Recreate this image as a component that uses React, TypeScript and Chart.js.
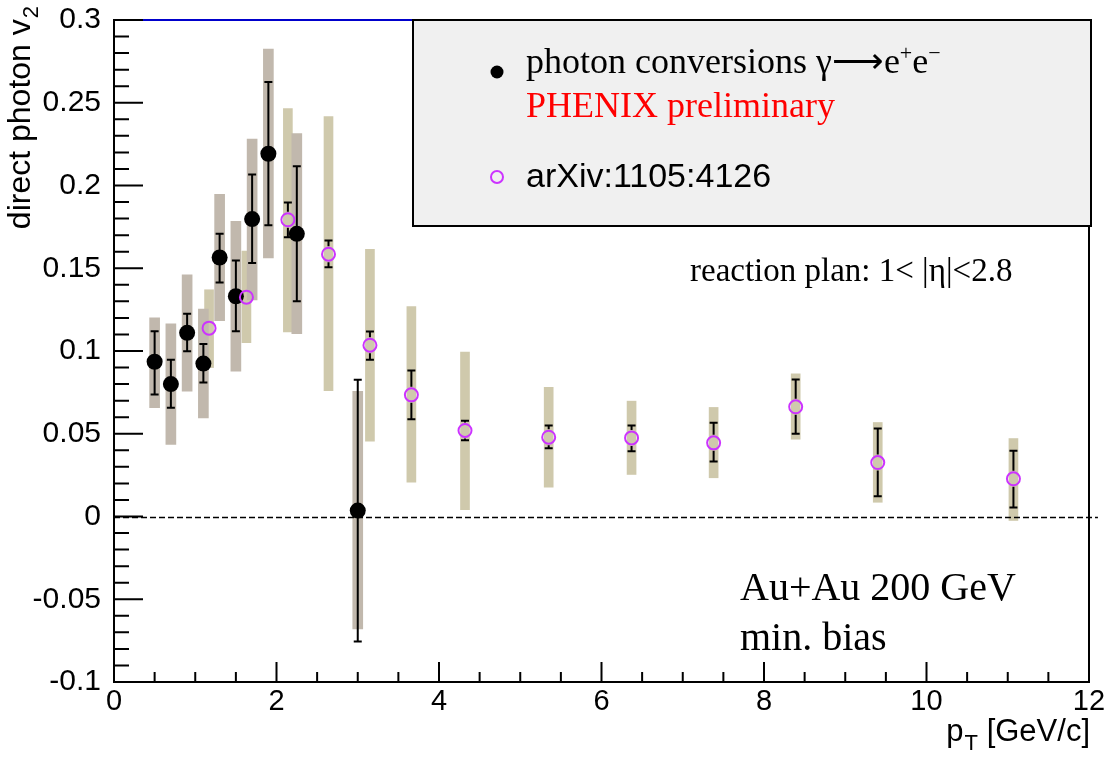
import React, { useEffect, useRef } from "react";
import { Chart, registerables } from "chart.js";

Chart.register(...registerables);

// ---- PHENIX preliminary: photon conversions (black dots) ----
const convPt = [0.5, 0.7, 0.9, 1.1, 1.3, 1.5, 1.7, 1.9, 2.25, 3.0];
const convV2 = [0.0935, 0.08, 0.111, 0.0924, 0.1565, 0.1331, 0.1797, 0.2192, 0.1708, 0.0036];
const convStatLow = [0.0737, 0.0657, 0.0999, 0.081, 0.1414, 0.112, 0.1531, 0.176, 0.13, -0.0755];
const convStatHigh = [0.112, 0.0947, 0.1225, 0.1043, 0.1708, 0.1547, 0.2066, 0.2626, 0.2117, 0.0826];
const convSysLow = [0.0657, 0.0435, 0.0757, 0.0596, 0.1184, 0.0878, 0.1309, 0.1563, 0.1104, -0.0679];
const convSysHigh = [0.12, 0.1164, 0.146, 0.1253, 0.1946, 0.1784, 0.228, 0.2824, 0.2314, 0.0757];

// ---- arXiv:1105:4126 (open magenta circles) ----
const arxivPt = [1.17, 1.63, 2.14, 2.64, 3.15, 3.66, 4.32, 5.35, 6.37, 7.38, 8.39, 9.4, 11.07];
const arxivV2 = [0.1138, 0.1325, 0.1793, 0.1585, 0.1035, 0.0735, 0.052, 0.0479, 0.0475, 0.0445, 0.0663, 0.0326, 0.0228];
const arxivStatLow = [0.1108, 0.1295, 0.1688, 0.1506, 0.0947, 0.0588, 0.0461, 0.0413, 0.0395, 0.0332, 0.05, 0.0123, 0.0054];
const arxivStatHigh = [0.1168, 0.1355, 0.1897, 0.1668, 0.1118, 0.0882, 0.0578, 0.055, 0.055, 0.0566, 0.0828, 0.0532, 0.0397];
const arxivSysLow = [0.09, 0.1051, 0.1116, 0.0761, 0.0455, 0.0207, 0.0042, 0.0177, 0.0254, 0.0234, 0.0467, 0.0086, -0.0024];
const arxivSysHigh = [0.137, 0.1603, 0.2465, 0.2417, 0.1615, 0.1269, 0.0993, 0.0781, 0.0697, 0.0659, 0.0862, 0.0568, 0.0471];

// ---- axes ----
const xTickValues = [0, 2, 4, 6, 8, 10, 12];
const xTickLabels = ["0", "2", "4", "6", "8", "10", "12"];
const yTickValues = [-0.1, -0.05, 0, 0.05, 0.1, 0.15, 0.2, 0.25, 0.3];
const yTickLabels = ["-0.1", "-0.05", "0", "0.05", "0.1", "0.15", "0.2", "0.25", "0.3"];
const xMinorStep = 0.5;
const yMinorStep = 0.01;

const SANS = "'Liberation Sans', Arial, Helvetica, sans-serif";
const SERIF = "'Liberation Serif', 'Times New Roman', serif";
const SYS_CONV = "rgb(193,184,173)";
const SYS_ARXIV = "rgb(207,201,172)";
const MAGENTA = "#cc33ff";

const W = 1104;
const H = 757;

function drawStat(ctx: CanvasRenderingContext2D, x: number, y: number, yHi: number, yLo: number, gap: number) {
  const cap = 4;
  ctx.beginPath();
  if (y - yHi > gap) {
    ctx.moveTo(x, y - gap);
    ctx.lineTo(x, yHi);
    ctx.moveTo(x - cap, yHi);
    ctx.lineTo(x + cap, yHi);
  }
  if (yLo - y > gap) {
    ctx.moveTo(x, y + gap);
    ctx.lineTo(x, yLo);
    ctx.moveTo(x - cap, yLo);
    ctx.lineTo(x + cap, yLo);
  }
  ctx.stroke();
}

const statPlugin = {
  id: "statBars",
  afterDatasetDraw(chart: any, args: any) {
    if (args.index !== 0) return;
    const ctx: CanvasRenderingContext2D = chart.ctx;
    const xs = chart.scales.x;
    const ys = chart.scales.y;
    ctx.save();
    ctx.strokeStyle = "#000";
    ctx.lineWidth = 2;
    convPt.forEach((p, i) => {
      drawStat(ctx, xs.getPixelForValue(p), ys.getPixelForValue(convV2[i]), ys.getPixelForValue(convStatHigh[i]), ys.getPixelForValue(convStatLow[i]), 0);
    });
    arxivPt.forEach((p, i) => {
      drawStat(ctx, xs.getPixelForValue(p), ys.getPixelForValue(arxivV2[i]), ys.getPixelForValue(arxivStatHigh[i]), ys.getPixelForValue(arxivStatLow[i]), 8);
    });
    ctx.restore();
  },
};

const decorPlugin = {
  id: "decor",
  afterDatasetsDraw(chart: any) {
    const ctx: CanvasRenderingContext2D = chart.ctx;
    const xs = chart.scales.x;
    const ys = chart.scales.y;
    const ca = chart.chartArea;
    ctx.save();

    // zero line (dashed)
    ctx.strokeStyle = "#000";
    ctx.lineWidth = 1.6;
    ctx.setLineDash([6, 3]);
    ctx.beginPath();
    const y0 = Math.round(ys.getPixelForValue(0)) + 0.5;
    ctx.moveTo(xs.getPixelForValue(0), y0);
    ctx.lineTo(xs.getPixelForValue(12.11), y0);
    ctx.stroke();
    ctx.setLineDash([]);

    // frame
    ctx.lineWidth = 2;
    ctx.strokeStyle = "#000";
    ctx.strokeRect(ca.left, ca.top, ca.right - ca.left, ca.bottom - ca.top);

    // ticks (inside)
    ctx.beginPath();
    for (let k = 0; k <= Math.round(12 / xMinorStep); k++) {
      const v = k * xMinorStep;
      const px = xs.getPixelForValue(v);
      const len = xTickValues.includes(v) ? 20 : 10;
      ctx.moveTo(px, ca.bottom);
      ctx.lineTo(px, ca.bottom - len);
    }
    for (let k = 0; k <= Math.round(0.4 / yMinorStep); k++) {
      const v = -0.1 + k * yMinorStep;
      const py = ys.getPixelForValue(v);
      const major = k % 5 === 0;
      ctx.moveTo(ca.left, py);
      ctx.lineTo(ca.left + (major ? 29 : 15), py);
    }
    ctx.stroke();

    // legend box
    const bl = 413, bt = ca.top, br = 1091, bb = 226;
    // blue line along the top
    ctx.strokeStyle = "#0000cc";
    ctx.lineWidth = 2;
    ctx.beginPath();
    ctx.moveTo(ca.left + 29, ca.top);
    ctx.lineTo(bl, ca.top);
    ctx.stroke();

    ctx.fillStyle = "#f0f0f0";
    ctx.fillRect(bl, bt, br - bl, bb - bt);
    ctx.strokeStyle = "#000";
    ctx.lineWidth = 2;
    ctx.strokeRect(bl, bt, br - bl, bb - bt);

    // legend markers
    ctx.fillStyle = "#000";
    ctx.beginPath();
    ctx.arc(497, 72, 6.5, 0, Math.PI * 2);
    ctx.fill();
    ctx.strokeStyle = MAGENTA;
    ctx.lineWidth = 2;
    ctx.beginPath();
    ctx.arc(497, 177, 6, 0, Math.PI * 2);
    ctx.stroke();

    // legend texts
    ctx.textBaseline = "alphabetic";
    ctx.textAlign = "left";
    ctx.fillStyle = "#000";
    let x = 526;
    ctx.font = `36px ${SERIF}`;
    const t1 = "photon conversions γ⟶e";
    ctx.fillText(t1, x, 73);
    x += ctx.measureText(t1).width;
    ctx.font = `22px ${SERIF}`;
    ctx.fillText("+", x, 60);
    x += ctx.measureText("+").width;
    ctx.font = `36px ${SERIF}`;
    ctx.fillText("e", x, 73);
    x += ctx.measureText("e").width;
    ctx.font = `22px ${SERIF}`;
    ctx.fillText("−", x, 60);

    ctx.font = `36px ${SERIF}`;
    ctx.fillStyle = "#ff0000";
    ctx.fillText("PHENIX preliminary", 526, 117);

    ctx.fillStyle = "#000";
    ctx.font = `34px ${SANS}`;
    ctx.fillText("arXiv:1105:4126", 526, 187);

    ctx.font = `33px ${SERIF}`;
    ctx.fillText("reaction plan: 1< |η|<2.8", 690, 281);

    ctx.font = `40px ${SERIF}`;
    ctx.fillText("Au+Au 200 GeV", 740, 600);
    ctx.fillText("min. bias", 740, 650);

    // x-axis title: p_T [GeV/c]
    ctx.font = `31px ${SANS}`;
    ctx.textAlign = "right";
    let rx = ca.right + 1;
    const xt = " [GeV/c]";
    ctx.fillText(xt, rx, 741);
    rx -= ctx.measureText(xt).width;
    ctx.font = `22px ${SANS}`;
    ctx.fillText("T", rx, 750);
    rx -= ctx.measureText("T").width + 1;
    ctx.font = `31px ${SANS}`;
    ctx.fillText("p", rx, 741);

    // y-axis title: direct photon v_2
    ctx.save();
    ctx.translate(30, 6);
    ctx.rotate(-Math.PI / 2);
    ctx.textAlign = "right";
    ctx.font = `22px ${SANS}`;
    ctx.fillText("2", 0, 8);
    const w2 = ctx.measureText("2").width;
    ctx.font = `32px ${SANS}`;
    ctx.fillText("direct photon v", -w2 - 1, 0);
    ctx.restore();

    ctx.restore();
  },
};

export default function App() {
  const ref = useRef<HTMLCanvasElement | null>(null);

  useEffect(() => {
    document.body.style.margin = "0";
    const canvas = ref.current;
    if (!canvas) return;
    const chart = new Chart(canvas, {
      type: "scatter",
      data: {
        datasets: [
          {
            type: "bar",
            label: "conversions sys",
            data: convPt.map((p, i) => ({ x: p, y: [convSysLow[i], convSysHigh[i]] })),
            backgroundColor: SYS_CONV,
            borderWidth: 0,
            barThickness: 10,
            grouped: false,
            order: 3,
          } as any,
          {
            type: "bar",
            label: "arXiv sys",
            data: arxivPt.map((p, i) => ({ x: p, y: [arxivSysLow[i], arxivSysHigh[i]] })),
            backgroundColor: SYS_ARXIV,
            borderWidth: 0,
            barThickness: 9,
            grouped: false,
            order: 4,
          } as any,
          {
            type: "scatter",
            label: "photon conversions",
            data: convPt.map((p, i) => ({ x: p, y: convV2[i] })),
            pointRadius: 8,
            pointBorderWidth: 0,
            pointBackgroundColor: "#000",
            pointBorderColor: "#000",
            order: 2,
          },
          {
            type: "scatter",
            label: "arXiv:1105:4126",
            data: arxivPt.map((p, i) => ({ x: p, y: arxivV2[i] })),
            pointRadius: 6.5,
            pointBorderWidth: 2,
            pointBackgroundColor: "rgba(0,0,0,0)",
            pointBorderColor: MAGENTA,
            order: 1,
          },
        ],
      },
      options: {
        animation: false,
        responsive: false,
        devicePixelRatio: 1,
        events: [],
        layout: { autoPadding: false, padding: { left: 0, right: W - 1089, top: 20, bottom: 0 } },
        plugins: { legend: { display: false }, tooltip: { enabled: false } },
        scales: {
          x: {
            type: "linear",
            min: 0,
            max: 12,
            offset: false,
            grid: { display: false, drawTicks: false },
            border: { display: false },
            afterBuildTicks: (s: any) => {
              s.ticks = xTickValues.map((v) => ({ value: v }));
            },
            afterFit: (s: any) => {
              s.height = 75;
              s.paddingLeft = 0;
              s.paddingRight = 0;
            },
            ticks: {
              autoSkip: false,
              maxRotation: 0,
              padding: 3,
              color: "#000",
              font: { family: SANS, size: 29 },
              callback: (v: any) => xTickLabels[xTickValues.indexOf(Number(v))],
            },
          },
          y: {
            type: "linear",
            min: -0.1,
            max: 0.3,
            grid: { display: false, drawTicks: false },
            border: { display: false },
            afterBuildTicks: (s: any) => {
              s.ticks = yTickValues.map((v) => ({ value: v }));
            },
            afterFit: (s: any) => {
              s.width = 114;
              s.paddingTop = 0;
              s.paddingBottom = 0;
            },
            ticks: {
              autoSkip: false,
              padding: 13,
              color: "#000",
              font: { family: SANS, size: 30 },
              callback: (v: any) => yTickLabels[yTickValues.indexOf(Number(v))],
            },
          },
        },
      },
      plugins: [statPlugin, decorPlugin],
    } as any);
    return () => chart.destroy();
  }, []);

  return (
    <div style={{ width: W, height: H, background: "#fff" }}>
      <canvas ref={ref} width={W} height={H} style={{ display: "block" }} />
    </div>
  );
}
